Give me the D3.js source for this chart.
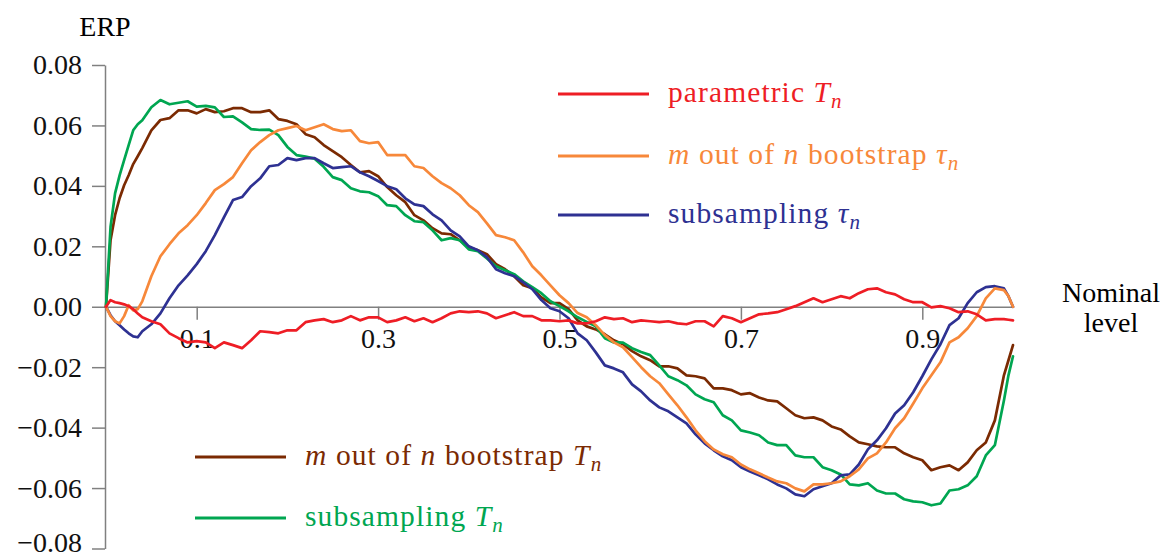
<!DOCTYPE html>
<html>
<head>
<meta charset="utf-8">
<title>ERP against nominal level</title>
<script src="https://cdn.jsdelivr.net/npm/d3@7"></script>
<style>
  body { margin: 0; background: #fff; }
  svg text { font-family: "Liberation Serif", "DejaVu Serif", serif; }
  .axis path, .axis line { stroke: #808080; stroke-width: 1.5; }
  .axis text { fill: #111; font-size: 28px; }
  .series { fill: none; stroke-width: 2.7; stroke-linejoin: round; stroke-linecap: round; }
</style>
</head>
<body>
<svg width="1169" height="558"></svg>
<script>
// nominal level (x)
var level = [0, 0.005, 0.01, 0.015, 0.02, 0.025, 0.03, 0.035, 0.04,
  0.05, 0.06, 0.07, 0.08, 0.09, 0.10,
  0.11, 0.12, 0.13, 0.14, 0.15, 0.16, 0.17, 0.18, 0.19, 0.20,
  0.21, 0.22, 0.23, 0.24, 0.25, 0.26, 0.27, 0.28, 0.29, 0.30,
  0.31, 0.32, 0.33, 0.34, 0.35, 0.36, 0.37, 0.38, 0.39, 0.40,
  0.41, 0.42, 0.43, 0.44, 0.45, 0.46, 0.47, 0.48, 0.49, 0.50,
  0.51, 0.52, 0.53, 0.54, 0.55, 0.56, 0.57, 0.58, 0.59, 0.60,
  0.61, 0.62, 0.63, 0.64, 0.65, 0.66, 0.67, 0.68, 0.69, 0.70,
  0.71, 0.72, 0.73, 0.74, 0.75, 0.76, 0.77, 0.78, 0.79, 0.80,
  0.81, 0.82, 0.83, 0.84, 0.85, 0.86, 0.87, 0.88, 0.89, 0.90,
  0.91, 0.92, 0.93, 0.94, 0.95, 0.96, 0.97, 0.98, 0.99,
  0.995, 1];

// ERP, one array per method
var parametricT = [0, 0.0022, 0.0015, 0.0012, 0.0008, 0.0002, -0.0008, -0.0022, -0.0035,
  -0.0048, -0.0058, -0.0088, -0.0104, -0.0118, -0.0114,
  -0.0118, -0.0137, -0.0118, -0.0127, -0.0137, -0.0111, -0.0081, -0.0084, -0.0088, -0.0078,
  -0.0078, -0.0051, -0.0045, -0.0041, -0.0051, -0.0045, -0.0031, -0.0045, -0.0035, -0.0035,
  -0.0051, -0.0045, -0.0035, -0.0048, -0.0038, -0.0051, -0.0038, -0.0022, -0.0015, -0.0018,
  -0.0015, -0.0022, -0.0038, -0.0028, -0.0018, -0.0031, -0.0031, -0.0045, -0.0045, -0.0048,
  -0.0045, -0.0055, -0.0055, -0.0048, -0.0035, -0.0041, -0.0038, -0.0051, -0.0045, -0.0048,
  -0.0051, -0.0048, -0.0055, -0.0058, -0.0048, -0.0048, -0.0065, -0.0031, -0.0038, -0.0051,
  -0.0038, -0.0025, -0.0022, -0.0018, -0.0008, 0.0002, 0.0015, 0.0028, 0.0015, 0.0025,
  0.0035, 0.0028, 0.0045, 0.0058, 0.0061, 0.0048, 0.0041, 0.0025, 0.0015, 0.0015,
  -0.0002, 0.0002, -0.0005, -0.0018, -0.0015, -0.0025, -0.0045, -0.0041, -0.0041,
  -0.0043, -0.0045];

var bootTau = [0, -0.0031, -0.0048, -0.0055, -0.0031, 0.0005, -0.0012, -0.0008, 0.0018,
  0.0101, 0.0167, 0.0207, 0.0243, 0.027, 0.0303,
  0.0343, 0.0386, 0.0406, 0.0429, 0.0475, 0.0518, 0.0545, 0.0568, 0.0584, 0.0591,
  0.0598, 0.0584, 0.0594, 0.0604, 0.0588, 0.0581, 0.0584, 0.0548, 0.0541, 0.0545,
  0.0502, 0.0502, 0.0502, 0.0465, 0.0459, 0.0432, 0.0409, 0.0392, 0.0369, 0.0336,
  0.0313, 0.0276, 0.0237, 0.023, 0.022, 0.018, 0.0134, 0.0104, 0.0071, 0.0038,
  0.0012, -0.0021, -0.0035, -0.0061, -0.0094, -0.0118, -0.0134, -0.0167, -0.02, -0.023,
  -0.0253, -0.029, -0.0326, -0.0366, -0.0409, -0.0445, -0.0472, -0.0488, -0.0498, -0.0522,
  -0.0538, -0.0551, -0.0565, -0.0578, -0.0584, -0.0601, -0.0611, -0.0588, -0.0588, -0.0584,
  -0.0578, -0.0561, -0.0538, -0.0502, -0.0485, -0.0449, -0.0402, -0.0369, -0.032, -0.027,
  -0.0227, -0.0184, -0.0118, -0.0101, -0.0071, -0.0031, 0.0028, 0.0061, 0.0055,
  0.0035, 0];

var subTau = [0, -0.0028, -0.0048, -0.0061, -0.0075, -0.0088, -0.0098, -0.0101, -0.0081,
  -0.0058, -0.0022, 0.0028, 0.0071, 0.0104, 0.0141,
  0.0184, 0.0237, 0.0296, 0.0353, 0.0363, 0.0399, 0.0425, 0.0465, 0.0469, 0.0492,
  0.0485, 0.0492, 0.0492, 0.0475, 0.0459, 0.0462, 0.0465, 0.0445, 0.0432, 0.0416,
  0.0399, 0.0389, 0.0359, 0.0339, 0.0333, 0.0306, 0.0286, 0.0253, 0.0233, 0.02,
  0.0187, 0.0164, 0.0124, 0.0111, 0.0101, 0.0081, 0.0058, 0.0022, -0.0005, -0.0015,
  -0.0038, -0.0088, -0.0111, -0.0151, -0.0194, -0.0204, -0.0217, -0.0257, -0.028, -0.031,
  -0.0333, -0.0346, -0.0366, -0.0386, -0.0422, -0.0452, -0.0475, -0.0495, -0.0508, -0.0531,
  -0.0545, -0.0558, -0.0571, -0.0588, -0.0601, -0.0621, -0.0627, -0.0604, -0.0594, -0.0584,
  -0.0558, -0.0555, -0.0522, -0.0472, -0.0442, -0.0402, -0.0353, -0.0326, -0.0283, -0.023,
  -0.0174, -0.0124, -0.0061, -0.0038, 0.0012, 0.0048, 0.0065, 0.0068, 0.0061,
  0.0035, 0];

var bootT = [0, 0.022, 0.0303, 0.0359, 0.0402, 0.0435, 0.0472, 0.0498, 0.0525,
  0.0584, 0.0618, 0.0624, 0.065, 0.065, 0.064,
  0.0654, 0.0644, 0.0647, 0.0657, 0.0657, 0.0644, 0.0644, 0.065, 0.0621, 0.0615,
  0.0604, 0.0571, 0.0561, 0.0535, 0.0515, 0.0495, 0.0469, 0.0445, 0.0449, 0.0432,
  0.0396, 0.0369, 0.0346, 0.0303, 0.0286, 0.026, 0.0243, 0.024, 0.022, 0.0197,
  0.0187, 0.0174, 0.0141, 0.0124, 0.0101, 0.0071, 0.0061, 0.0031, 0.0012, 0.0012,
  -0.0008, -0.0045, -0.0065, -0.0075, -0.0091, -0.0111, -0.0124, -0.0147, -0.0164, -0.0177,
  -0.0197, -0.0197, -0.0204, -0.0227, -0.023, -0.0237, -0.027, -0.027, -0.0276, -0.029,
  -0.0286, -0.03, -0.031, -0.0313, -0.0336, -0.0359, -0.0369, -0.0366, -0.0376, -0.0396,
  -0.0406, -0.0429, -0.0449, -0.0455, -0.0462, -0.0465, -0.0465, -0.0485, -0.0498, -0.0508,
  -0.0541, -0.0531, -0.0525, -0.0541, -0.0515, -0.0475, -0.0449, -0.0376, -0.0227,
  -0.0177, -0.0127];

var subT = [0, 0.0264, 0.0375, 0.0435, 0.0485, 0.0535, 0.0584, 0.0604, 0.0617,
  0.066, 0.0684, 0.067, 0.0675, 0.068, 0.0662,
  0.0665, 0.066, 0.0628, 0.063, 0.061, 0.0588, 0.0585, 0.0586, 0.0568, 0.0529,
  0.0502, 0.0497, 0.049, 0.0463, 0.0429, 0.0419, 0.0392, 0.0382, 0.0379, 0.0366,
  0.0336, 0.0333, 0.0303, 0.0283, 0.028, 0.0253, 0.022, 0.0227, 0.022, 0.019,
  0.0184, 0.016, 0.0134, 0.0121, 0.0108, 0.0084, 0.0065, 0.0045, 0.0018, 0.0002,
  -0.0015, -0.0035, -0.005, -0.0065, -0.0104, -0.0118, -0.0119, -0.0137, -0.015, -0.016,
  -0.0194, -0.023, -0.0243, -0.026, -0.029, -0.0306, -0.0316, -0.0359, -0.0376, -0.0409,
  -0.0416, -0.0425, -0.0449, -0.0458, -0.0458, -0.0492, -0.0498, -0.0498, -0.0531, -0.0541,
  -0.0555, -0.0588, -0.0591, -0.0584, -0.0608, -0.0618, -0.0618, -0.0637, -0.0644, -0.0647,
  -0.0657, -0.0651, -0.0608, -0.0604, -0.0591, -0.0561, -0.0492, -0.0458, -0.031,
  -0.0227, -0.0164];

var xTicks = [0.1, 0.3, 0.5, 0.7, 0.9];
var yTicks = [-0.08, -0.06, -0.04, -0.02, 0, 0.02, 0.04, 0.06, 0.08];

var svg = d3.select("svg");
var serif = "'Liberation Serif', 'DejaVu Serif', serif";

var x = d3.scaleLinear().domain([0, 1]).range([106, 1013]);
var y = d3.scaleLinear().domain([-0.08, 0.08]).range([548.5, 65]);

// axes
var yAxis = svg.append("g")
    .attr("class", "axis")
    .attr("transform", "translate(105,0)")
    .attr("font-family", serif)
    .call(d3.axisLeft(y).tickValues(yTicks).tickSize(13).tickSizeOuter(0)
      .tickPadding(10).tickFormat(d3.format(".2f")));
// keep the lowest label inside the picture
yAxis.selectAll(".tick text").filter(function(d) { return d === -0.08; })
    .attr("dy", "0.1em");

var xAxis = svg.append("g")
    .attr("class", "axis")
    .attr("transform", "translate(0," + y(0) + ")")
    .attr("font-family", serif)
    .call(d3.axisBottom(x).tickValues(xTicks).tickSize(13).tickSizeOuter(0)
      .tickPadding(8).tickFormat(d3.format(".1f")));
xAxis.select(".domain").attr("d", "M105,0.5H1013");

function label(tx, ty, s) {
  svg.append("text").attr("x", tx).attr("y", ty)
      .attr("text-anchor", "middle").attr("font-size", 28)
      .attr("font-family", serif).text(s);
}
label(105, 36, "ERP");
label(1111, 302, "Nominal");
label(1111, 332, "level");

// series
var line = d3.line()
    .x(function(d, i) { return x(level[i]); })
    .y(function(d) { return y(d); });

var series = [
  { values: bootT,       color: "#7b2a02" },
  { values: subT,        color: "#00a651" },
  { values: subTau,      color: "#2e3192" },
  { values: bootTau,     color: "#f7883a" },
  { values: parametricT, color: "#ee1d25" }
];

svg.append("g").selectAll("path")
  .data(series)
  .enter().append("path")
    .attr("class", "series")
    .attr("stroke", function(d) { return d.color; })
    .attr("d", function(d) { return line(d.values); });

// legends (label parts: plain text, math italic, subscript)
var legend = [
  { x: 558, y: 94,  color: "#ee1d25", parts: [["parametric ", ""], ["T", "i"], ["n", "s"]] },
  { x: 558, y: 156, color: "#f7883a", parts: [["m", "i"], [" out of ", ""], ["n", "i"], [" bootstrap ", ""], ["τ", "i"], ["n", "s"]] },
  { x: 558, y: 215, color: "#2e3192", parts: [["subsampling ", ""], ["τ", "i"], ["n", "s"]] },
  { x: 195, y: 457, color: "#7b2a02", parts: [["m", "i"], [" out of ", ""], ["n", "i"], [" bootstrap ", ""], ["T", "i"], ["n", "s"]] },
  { x: 195, y: 518, color: "#00a651", parts: [["subsampling ", ""], ["T", "i"], ["n", "s"]] }
];

var lg = svg.append("g").selectAll("g")
  .data(legend)
  .enter().append("g");

lg.append("line")
    .attr("x1", function(d) { return d.x; })
    .attr("x2", function(d) { return d.x + 91; })
    .attr("y1", function(d) { return d.y; })
    .attr("y2", function(d) { return d.y; })
    .attr("stroke", function(d) { return d.color; })
    .attr("stroke-width", 2.8);

lg.append("text")
    .attr("x", function(d) { return d.x + 110; })
    .attr("y", function(d) { return d.y + 8; })
    .attr("font-size", 29.5)
    .attr("letter-spacing", 1.1)
    .attr("font-family", serif)
    .attr("fill", function(d) { return d.color; })
    .each(function(d) {
      var t = d3.select(this);
      d.parts.forEach(function(p) {
        var s = t.append("tspan").text(p[0]);
        if (p[1] === "i") s.attr("font-style", "italic");
        if (p[1] === "s") s.attr("font-style", "italic").attr("font-size", 21).attr("dy", 6);
      });
    });
</script>
</body>
</html>
